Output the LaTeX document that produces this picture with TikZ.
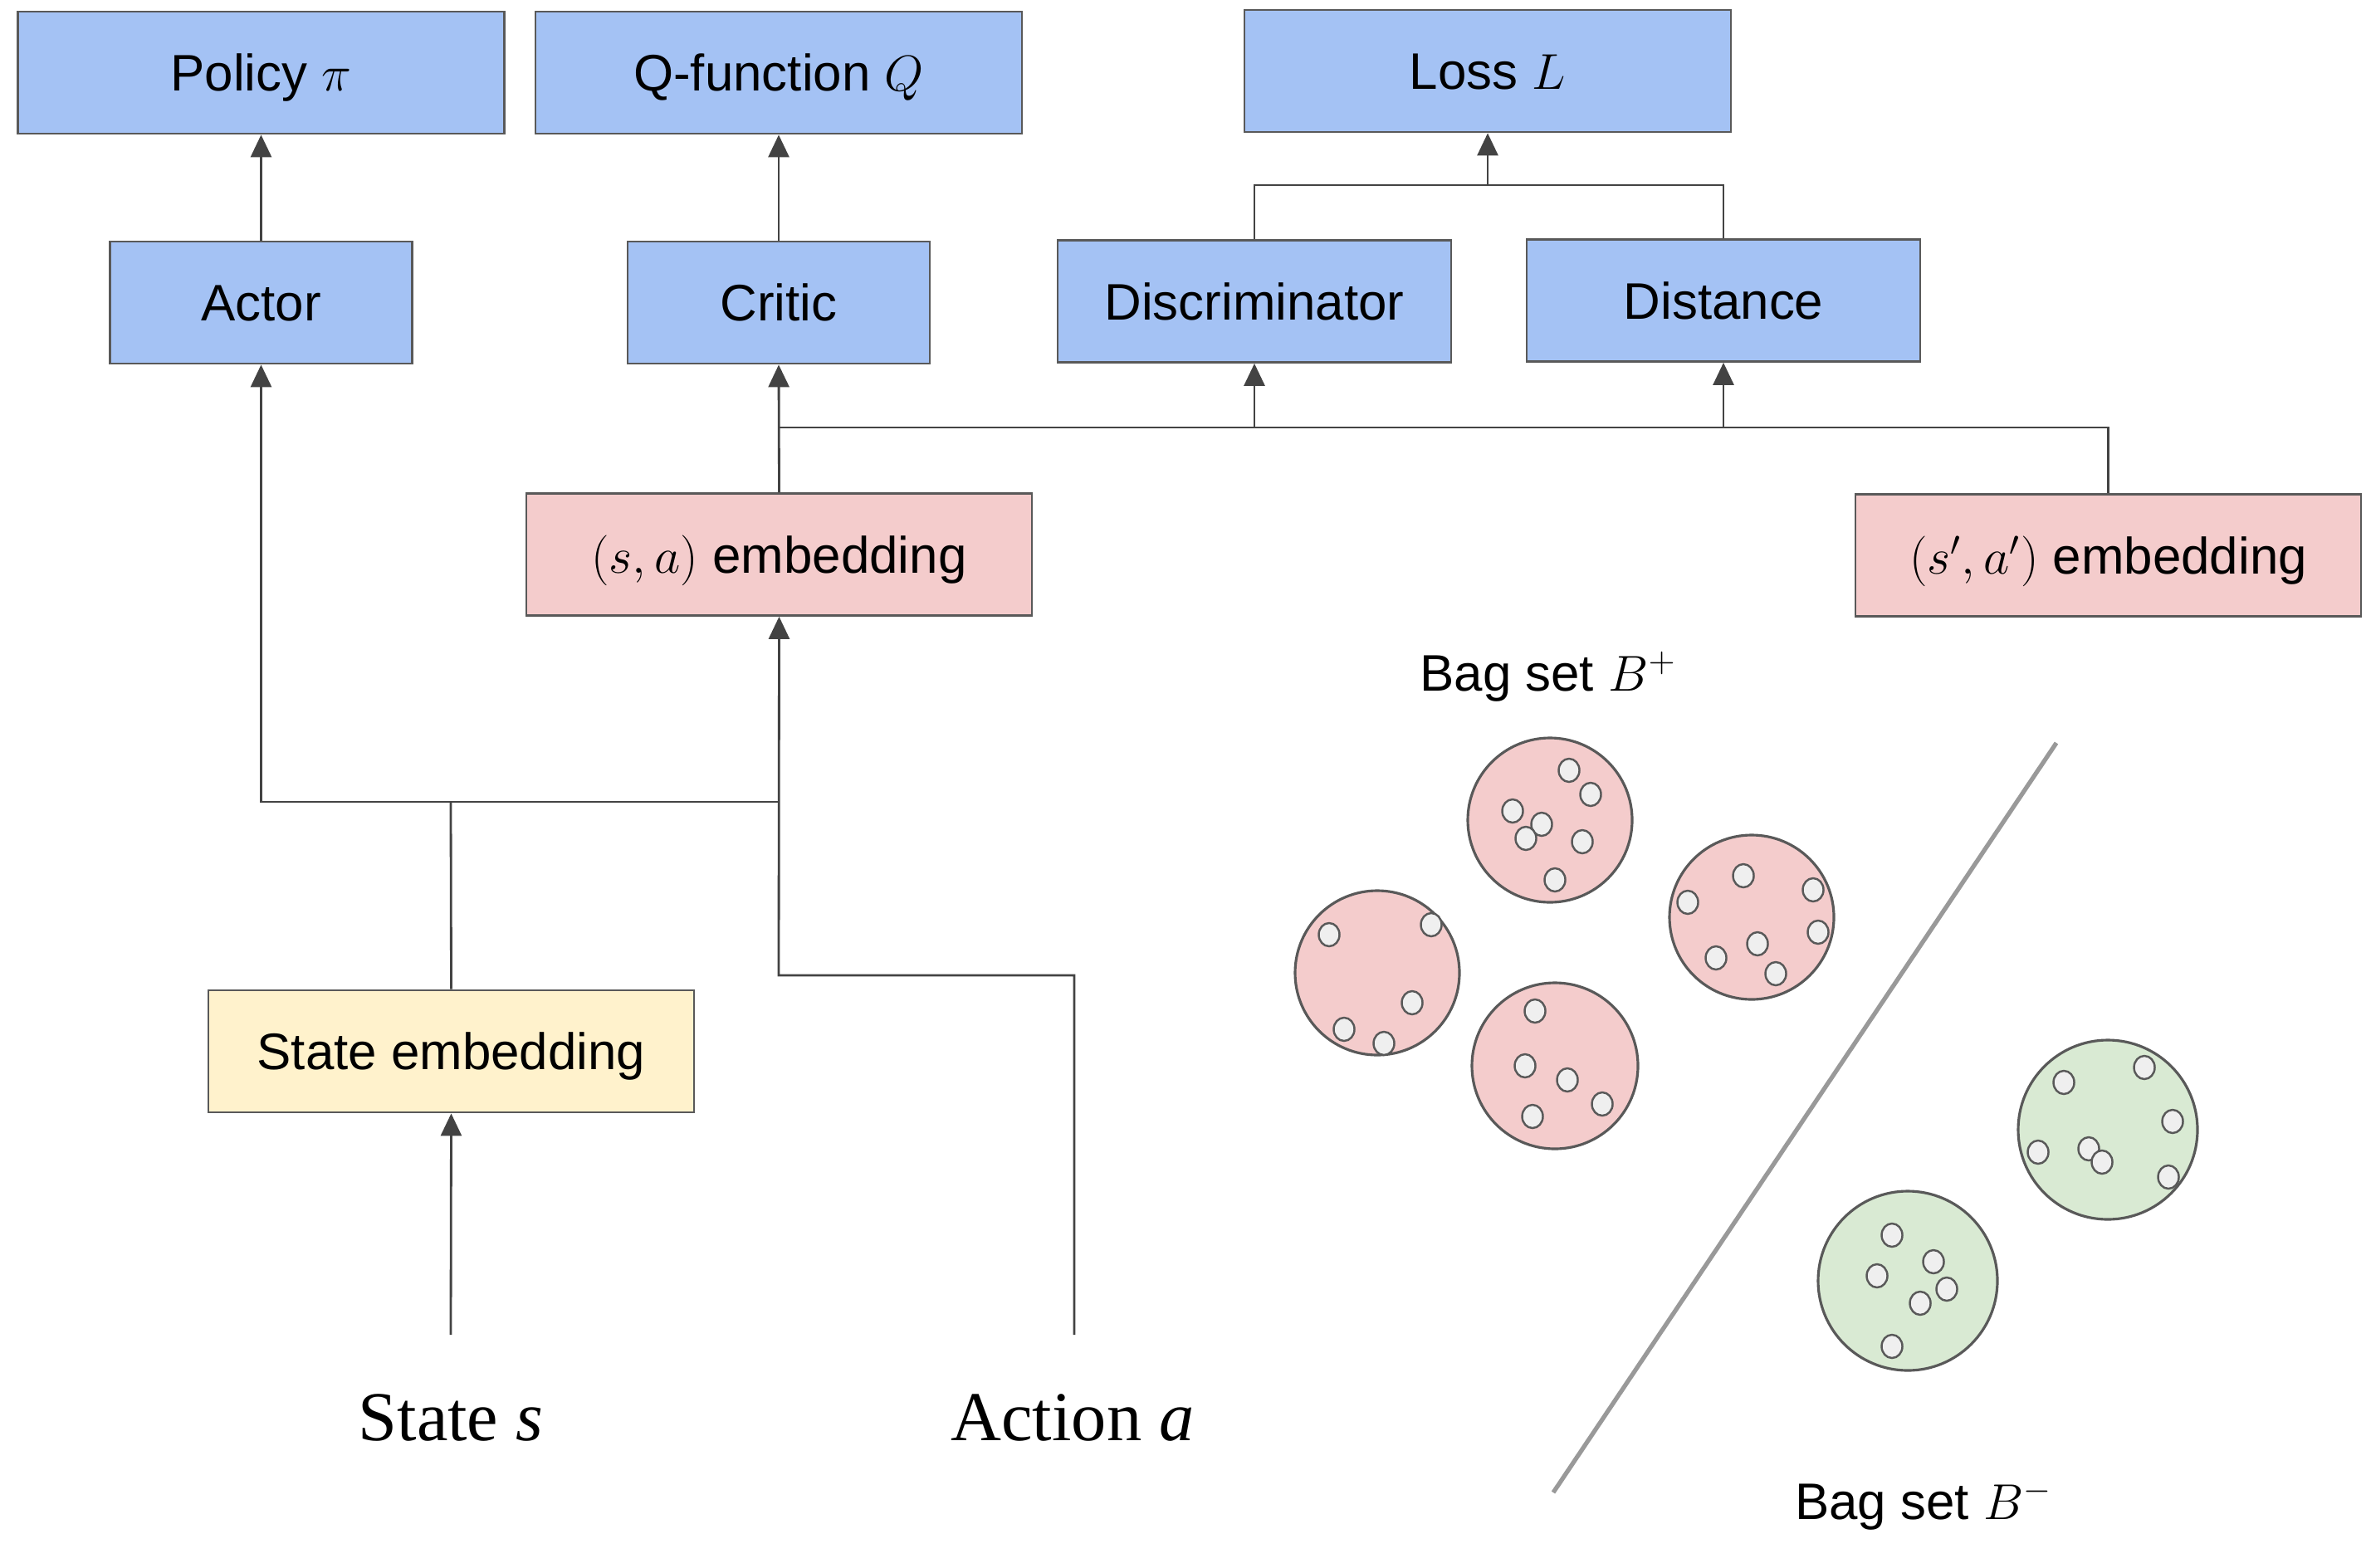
\documentclass[tikz,border=0pt]{standalone}
\usepackage{fontspec}
\setsansfont{Liberation Sans}
\newfontfamily\timesfont{Liberation Serif}
\usetikzlibrary{arrows.meta}

\definecolor{boxblue}{HTML}{A4C2F4}
\definecolor{boxpink}{HTML}{F4CCCC}
\definecolor{boxyellow}{HTML}{FFF2CC}
\definecolor{boxgreen}{HTML}{D9EAD3}
\definecolor{edgegray}{HTML}{595959}
\definecolor{linegray}{HTML}{434343}
\definecolor{dotgray}{HTML}{EFEFEF}

\begin{document}
\begin{tikzpicture}[line width=0.8pt,
  box/.style={draw=edgegray, minimum height=1.47cm, inner sep=0pt, text height=15.8pt, text depth=3.2pt, font=\sffamily\fontsize{17.6}{21}\selectfont},
  arr/.style={draw=linegray, -{Triangle[length=2.7mm,width=2.5mm]}},
  lnk/.style={draw=linegray},
  bag/.style={draw=edgegray, line width=0.9pt},
  pt/.style={draw=edgegray, fill=dotgray, line width=0.7pt},
  lbl/.style={font=\sffamily\fontsize{17.6}{21}\selectfont, anchor=base},
  inp/.style={font=\timesfont\fontsize{24}{28}\selectfont, anchor=base}]
\useasboundingbox (0,0) rectangle (28.5,-18.88);

% 上层输出
\node[box, fill=boxblue, minimum width=5.86cm] (policy) at (3.145,-0.875) {Policy $\pi$};
\node[box, fill=boxblue, minimum width=5.86cm] (qfun) at (9.38,-0.875) {Q-function $Q$};
\node[box, fill=boxblue, minimum width=5.86cm] (loss) at (17.92,-0.855) {Loss $L$};

% 网络
\node[box, fill=boxblue, minimum width=3.64cm] (actor) at (3.145,-3.645) {Actor};
\node[box, fill=boxblue, minimum width=3.64cm] (critic) at (9.38,-3.645) {Critic};
\node[box, fill=boxblue, minimum width=4.74cm] (disc) at (15.11,-3.63) {Discriminator};
\node[box, fill=boxblue, minimum width=4.74cm] (dist) at (20.76,-3.62) {Distance};

% 嵌入
\node[box, fill=boxpink, minimum width=6.09cm] (saemb) at (9.385,-6.68) {$(s,a)$ embedding};
\node[box, fill=boxpink, minimum width=6.09cm] (sapemb) at (25.395,-6.69) {$(s',a')$ embedding};
\node[box, fill=boxyellow, minimum width=5.85cm] (stemb) at (5.435,-12.665) {State embedding};

% 输入
\node[inp] (state) at (5.43,-17.35) {State \textit{s}};
\node[inp] (action) at (12.92,-17.35) {Action \textit{a}};
\coordinate (sin) at (5.43,-16.08);
\coordinate (ain) at (12.94,-16.08);

% 连线
\coordinate (ja) at (9.38,-11.75);
\coordinate (j1) at (5.43,-9.66);
\coordinate (j2) at (9.38,-9.66);
\coordinate (j3) at (9.38,-5.15);
\coordinate (j4) at (17.92,-2.23);
\draw[arr] (sin) -- (stemb.south);
\draw[arr] (ain) |- (ja) -- (saemb.south);
\draw[lnk] (stemb.north) -- (j1);
\draw[lnk] (j1) -- (j2);
\draw[arr] (j1) -| (actor.south);
\draw[arr] (actor.north) -- (policy.south);
\draw[arr] (saemb.north) -- (critic.south);
\draw[arr] (critic.north) -- (qfun.south);
\draw[lnk] (j3) -| (sapemb.north);
\draw[arr] (disc.south |- j3) -- (disc.south);
\draw[arr] (dist.south |- j3) -- (dist.south);
\draw[lnk] (disc.north) |- (j4) -| (dist.north);
\draw[arr] (j4) -- (loss.south);

% 包集合
\node[lbl] (bagpos) at (18.65,-8.32) {Bag set $B^+$};
\node[lbl] (bagneg) at (23.17,-18.30) {Bag set $B^-$};
\draw[draw=gray!80, line width=1.5pt] (24.77,-8.95) -- (18.71,-17.98);

\draw[bag, fill=boxpink] (18.67,-9.88) circle (0.99);
\foreach \x/\y in {18.90/-9.28, 19.16/-9.57, 18.22/-9.77, 18.57/-9.93, 18.38/-10.10, 19.06/-10.14, 18.73/-10.60}
  \draw[pt] (\x,\y) ellipse (0.125 and 0.14);
\draw[bag, fill=boxpink] (21.10,-11.05) circle (0.99);
\foreach \x/\y in {21.00/-10.55, 21.84/-10.72, 20.33/-10.87, 21.90/-11.23, 21.17/-11.37, 20.67/-11.54, 21.39/-11.73}
  \draw[pt] (\x,\y) ellipse (0.125 and 0.14);
\draw[bag, fill=boxpink] (16.59,-11.72) circle (0.99);
\foreach \x/\y in {16.01/-11.26, 17.24/-11.14, 17.01/-12.08, 16.19/-12.40, 16.67/-12.57}
  \draw[pt] (\x,\y) ellipse (0.125 and 0.14);
\draw[bag, fill=boxpink] (18.73,-12.84) circle (1.0);
\foreach \x/\y in {18.49/-12.18, 18.37/-12.84, 18.88/-13.01, 19.30/-13.30, 18.46/-13.45}
  \draw[pt] (\x,\y) ellipse (0.125 and 0.14);
\draw[bag, fill=boxgreen] (25.39,-13.61) circle (1.08);
\foreach \x/\y in {24.86/-13.04, 25.83/-12.86, 26.17/-13.51, 24.55/-13.88, 25.16/-13.84, 25.32/-14.00, 26.12/-14.18}
  \draw[pt] (\x,\y) ellipse (0.125 and 0.14);
\draw[bag, fill=boxgreen] (22.98,-15.43) circle (1.08);
\foreach \x/\y in {22.79/-14.88, 23.29/-15.20, 22.61/-15.37, 23.45/-15.53, 23.13/-15.70, 22.79/-16.22}
  \draw[pt] (\x,\y) ellipse (0.125 and 0.14);
\end{tikzpicture}
\end{document}
